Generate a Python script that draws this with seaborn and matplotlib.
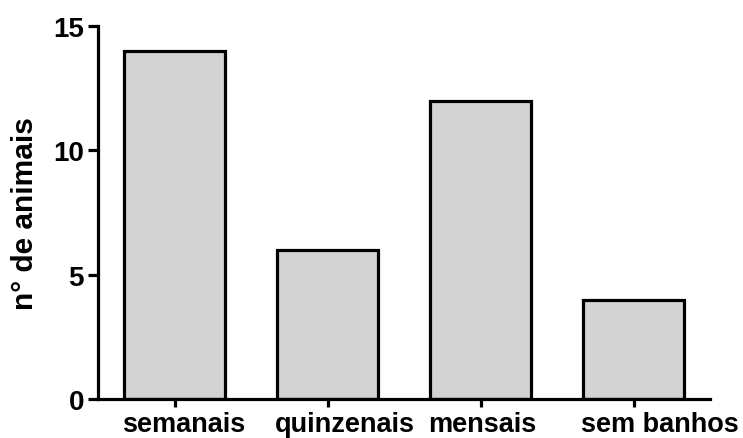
import matplotlib
matplotlib.use("Agg")
import matplotlib.pyplot as plt
import matplotlib.transforms as mtransforms
import seaborn as sns
import pandas as pd

categories = ["semanais", "quinzenais", "mensais", "sem banhos"]
values = [14, 6, 12, 4]
yticks = [0, 5, 10, 15]
ylabel = "n° de animais"

sns.set_style("ticks")
plt.rcParams["font.family"] = ["Liberation Sans", "DejaVu Sans"]
plt.rcParams["font.weight"] = "bold"
plt.rcParams["text.color"] = "black"
plt.rcParams["axes.labelcolor"] = "black"
plt.rcParams["xtick.color"] = "black"
plt.rcParams["ytick.color"] = "black"

df = pd.DataFrame({"cat": categories, "val": values})

fig = plt.figure(figsize=(7.43, 4.39), dpi=100)
ax = fig.add_axes([98/743, 1-400/439, (710-98)/743, (400-27)/439])

bar_w = 0.665
sns.barplot(data=df, x="cat", y="val", order=categories, color="#d3d3d3",
            saturation=1, edgecolor="black", linewidth=2.3, width=bar_w, ax=ax)

ax.set_xlim(-0.5, 3.5)
ax.set_ylim(0, 15)
ax.set_yticks(yticks)
ax.set_xlabel("")
ax.set_ylabel(ylabel, fontsize=21.5, fontweight="bold", labelpad=10)
sns.despine(ax=ax)
for s in ["left", "bottom"]:
    ax.spines[s].set_linewidth(2.3)
    ax.spines[s].set_color("black")
ax.tick_params(axis="both", direction="out", width=2.3, labelsize=20,
               colors="black")
ax.tick_params(axis="y", length=7, pad=3)
ax.tick_params(axis="x", length=6, pad=3)
for lab in ax.get_yticklabels():
    lab.set_fontweight("bold")
for lab in ax.get_xticklabels():
    lab.set_fontweight("bold")
    lab.set_fontsize(19.5)

# x labels are left-aligned to the left edge of each bar
fig.canvas.draw()
px_per_unit = ax.transData.transform((1, 0))[0] - ax.transData.transform((0, 0))[0]
shift_in = (-(bar_w / 2) * px_per_unit - 2) / fig.dpi
offset = mtransforms.ScaledTranslation(shift_in, 0, fig.dpi_scale_trans)
for lab in ax.get_xticklabels():
    lab.set_horizontalalignment("left")
    lab.set_transform(lab.get_transform() + offset)

fig.savefig("out.png", dpi=100)
